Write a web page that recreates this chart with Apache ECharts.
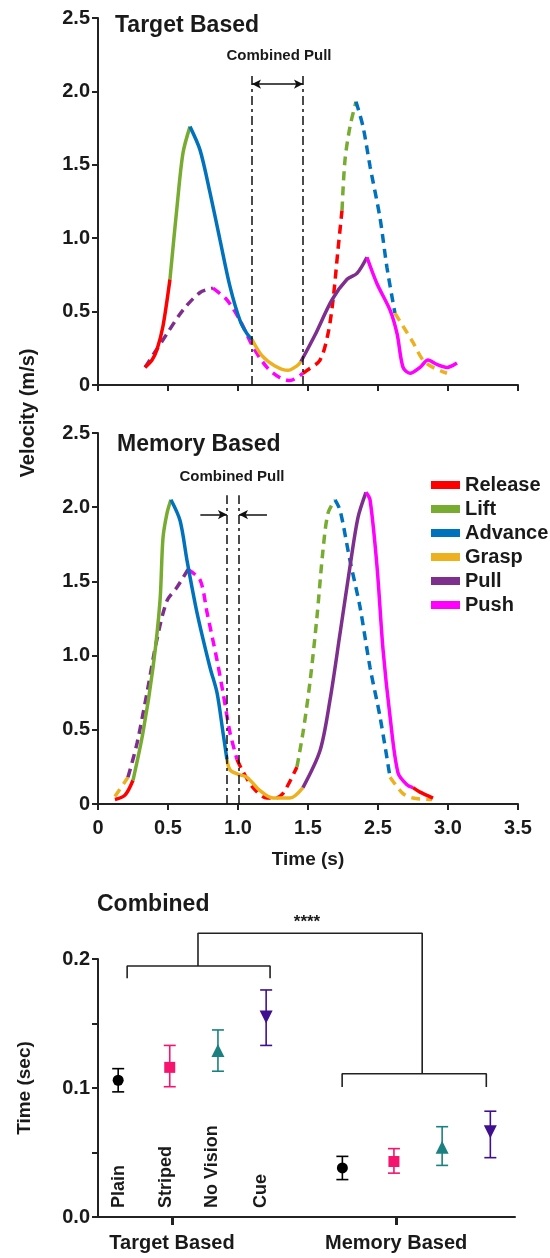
<!DOCTYPE html>
<html>
<head>
<meta charset="utf-8">
<script src="https://cdn.jsdelivr.net/npm/echarts@6.0.0/dist/echarts.min.js"></script>
<style>
html, body { margin: 0; padding: 0; background: #fff; }
#main { width: 550px; height: 1258px; }
</style>
</head>
<body>
<div id="main"></div>
<script>
var FONT = '"Liberation Sans", Arial, sans-serif';
var INK = '#1a1a1a';

var phases = ['Release', 'Lift', 'Advance', 'Grasp', 'Pull', 'Push'];
var phaseColors = {
    Release: '#FF0000', Lift: '#77AC30', Advance: '#0072BD',
    Grasp: '#EDB120', Pull: '#7E2F8E', Push: '#FF00FF'
};
var timeTickLabels = ['0', '0.5', '1.0', '1.5', '2.5', '3.0', '3.5'];

// target based, solid trace
var targetSolid = [
    ['Release', [[0.336, 0.12], [0.386, 0.17], [0.421, 0.24], [0.464, 0.40], [0.514, 0.72]]],
    ['Lift', [[0.514, 0.72], [0.564, 1.21], [0.607, 1.58], [0.657, 1.76]]],
    ['Advance', [[0.657, 1.76], [0.729, 1.60], [0.8, 1.31], [0.871, 0.99], [0.943, 0.67], [1.014, 0.44], [1.064, 0.35], [1.1, 0.31]]],
    ['Grasp', [[1.1, 0.31], [1.171, 0.20], [1.264, 0.13], [1.357, 0.10], [1.421, 0.13], [1.45, 0.16]]],
    ['Pull', [[1.45, 0.16], [1.55, 0.34], [1.671, 0.58], [1.779, 0.72], [1.85, 0.76], [1.921, 0.87]]],
    ['Push', [[1.921, 0.87], [1.993, 0.69], [2.086, 0.51], [2.136, 0.35], [2.179, 0.12], [2.229, 0.08], [2.3, 0.12], [2.357, 0.17], [2.421, 0.14], [2.493, 0.12], [2.564, 0.15]]]
];
// target based, dashed trace
var targetDashed = [
    ['Pull', [[0.336, 0.12], [0.493, 0.35], [0.607, 0.51], [0.729, 0.63], [0.821, 0.66]]],
    ['Push', [[0.821, 0.66], [0.921, 0.58], [1.014, 0.44], [1.107, 0.26], [1.207, 0.12], [1.3, 0.05], [1.371, 0.03], [1.464, 0.08]]],
    ['Release', [[1.464, 0.08], [1.493, 0.10], [1.586, 0.17], [1.643, 0.35], [1.679, 0.58], [1.714, 0.92], [1.743, 1.19]]],
    ['Lift', [[1.743, 1.19], [1.764, 1.53], [1.8, 1.76], [1.843, 1.93]]],
    ['Advance', [[1.843, 1.93], [1.893, 1.76], [1.943, 1.49], [2.014, 1.14], [2.064, 0.80], [2.121, 0.49]]],
    ['Grasp', [[2.121, 0.49], [2.179, 0.40], [2.25, 0.29], [2.321, 0.17], [2.393, 0.12], [2.493, 0.08]]]
];
// memory based, solid trace
var memorySolid = [
    ['Release', [[0.121, 0.03], [0.193, 0.06], [0.25, 0.16]]],
    ['Lift', [[0.25, 0.16], [0.321, 0.48], [0.393, 0.92], [0.443, 1.37], [0.464, 1.79], [0.493, 1.96], [0.521, 2.05]]],
    ['Advance', [[0.521, 2.05], [0.586, 1.91], [0.636, 1.64], [0.707, 1.29], [0.8, 0.92], [0.85, 0.75], [0.893, 0.48], [0.921, 0.30]]],
    ['Grasp', [[0.921, 0.30], [0.943, 0.23], [1.0, 0.20], [1.064, 0.18], [1.157, 0.09], [1.25, 0.04], [1.371, 0.04], [1.464, 0.11]]],
    ['Pull', [[1.464, 0.11], [1.586, 0.36], [1.657, 0.70], [1.729, 1.15], [1.8, 1.60], [1.857, 1.93], [1.914, 2.10]]],
    ['Push', [[1.914, 2.10], [1.943, 2.05], [1.993, 1.60], [2.036, 1.04], [2.086, 0.59], [2.143, 0.21], [2.207, 0.13], [2.25, 0.11]]],
    ['Release', [[2.25, 0.11], [2.3, 0.08], [2.393, 0.04]]]
];
// memory based, dashed trace
var memoryDashed = [
    ['Grasp', [[0.121, 0.05], [0.214, 0.18]]],
    ['Pull', [[0.214, 0.18], [0.279, 0.41], [0.35, 0.75], [0.421, 1.11], [0.493, 1.37], [0.564, 1.46], [0.643, 1.58]]],
    ['Push', [[0.643, 1.58], [0.729, 1.51], [0.779, 1.29], [0.85, 0.97], [0.893, 0.75], [0.943, 0.48], [0.993, 0.30]]],
    ['Release', [[0.993, 0.30], [1.029, 0.23], [1.107, 0.11], [1.207, 0.04], [1.264, 0.04], [1.321, 0.07], [1.421, 0.25]]],
    ['Lift', [[1.421, 0.25], [1.464, 0.48], [1.514, 0.82], [1.564, 1.26], [1.607, 1.71], [1.643, 1.96], [1.693, 2.05]]],
    ['Advance', [[1.693, 2.05], [1.729, 1.98], [1.8, 1.64], [1.871, 1.33], [1.943, 0.92], [2.014, 0.59], [2.086, 0.18]]],
    ['Grasp', [[2.086, 0.18], [2.179, 0.07], [2.25, 0.04], [2.386, 0.03]]]
];

// combined pull window (s)
var targetPullWindow = [1.1, 1.464];
var memoryPullWindow = [0.921, 1.007];

// bottom panel
var groups = ['Target Based', 'Memory Based'];
var conditions = ['Plain', 'Striped', 'No Vision', 'Cue'];
var targetMean = [0.106, 0.116, 0.129, 0.155];
var targetLow = [0.097, 0.101, 0.113, 0.133];
var targetHigh = [0.115, 0.133, 0.145, 0.176];
var memoryMean = [0.038, 0.043, 0.054, 0.066];
var memoryLow = [0.029, 0.034, 0.040, 0.046];
var memoryHigh = [0.047, 0.053, 0.070, 0.082];

var condColors = ['#000000', '#F5146E', '#1A8080', '#3F0F8F'];
var condSymbols = ['circle', 'rect', 'triangle', 'triangle'];
var condRotate = [0, 0, 0, 180];
var condOffset = [-0.24, -0.01, 0.205, 0.42];

var chart = echarts.init(document.getElementById('main'), null, { renderer: 'canvas' });

function traceSeries(trace, idx, dashed) {
    return trace.map(function (seg) {
        return {
            name: seg[0],
            type: 'line',
            xAxisIndex: idx,
            yAxisIndex: idx,
            data: seg[1],
            smooth: 0.3,
            symbol: 'none',
            silent: true,
            z: dashed ? 3 : 4,
            itemStyle: { color: phaseColors[seg[0]] },
            lineStyle: {
                color: phaseColors[seg[0]],
                width: 3.5,
                type: dashed ? [9, 6] : 'solid',
                cap: 'butt'
            }
        };
    });
}

function guideSeries(idx, win, top, arrowY, inward) {
    var vStyle = { color: '#111', width: 1.5, type: [9, 4, 3, 4] };
    var aStyle = { color: '#111', width: 1.5, type: 'solid' };
    var lines = [
        [{ coord: [win[0], 0], lineStyle: vStyle }, { coord: [win[0], top] }],
        [{ coord: [win[1], 0], lineStyle: vStyle }, { coord: [win[1], top] }]
    ];
    if (inward) {
        lines.push([{ coord: [win[0] - 0.19, arrowY], symbol: 'none', lineStyle: aStyle }, { coord: [win[0], arrowY], symbol: 'arrow' }]);
        lines.push([{ coord: [win[1] + 0.2, arrowY], symbol: 'none', lineStyle: aStyle }, { coord: [win[1], arrowY], symbol: 'arrow' }]);
    } else {
        lines.push([{ coord: [win[0], arrowY], symbol: 'arrow', lineStyle: aStyle }, { coord: [win[1], arrowY], symbol: 'arrow' }]);
    }
    return {
        name: 'guide' + idx,
        type: 'line',
        xAxisIndex: idx,
        yAxisIndex: idx,
        data: [],
        symbol: 'none',
        markLine: {
            silent: true,
            animation: false,
            symbol: ['none', 'none'],
            symbolSize: [7, 9],
            label: { show: false },
            data: lines
        }
    };
}

function timeAxis(idx, showLabels) {
    return {
        type: 'value', gridIndex: idx, min: 0, max: 3, interval: 0.5,
        axisLine: { show: true, onZero: false, lineStyle: { color: '#222', width: 2 } },
        axisTick: { show: true, length: 6, lineStyle: { color: '#222', width: 2 } },
        splitLine: { show: false },
        axisLabel: {
            show: showLabels, margin: 14, color: INK, fontSize: 20, fontWeight: 'bold', fontFamily: FONT,
            formatter: function (v) { return timeTickLabels[Math.round(v / 0.5)]; }
        },
        name: showLabels ? 'Time (s)' : '',
        nameLocation: 'middle',
        nameGap: 46,
        nameTextStyle: { color: INK, fontSize: 19, fontWeight: 'bold', fontFamily: FONT }
    };
}

function velocityAxis(idx) {
    return {
        type: 'value', gridIndex: idx, min: 0, max: 2.5, interval: 0.5,
        axisLine: { show: true, onZero: false, lineStyle: { color: '#222', width: 2 } },
        axisTick: { show: true, length: 6, lineStyle: { color: '#222', width: 2 } },
        splitLine: { show: false },
        axisLabel: {
            margin: 8, color: INK, fontSize: 20, fontWeight: 'bold', fontFamily: FONT,
            formatter: function (v) { return v === 0 ? '0' : v.toFixed(1); }
        }
    };
}

function errorBarSeries(ci, pts) {
    var color = condColors[ci];
    return {
        name: conditions[ci] + ' err',
        type: 'custom',
        xAxisIndex: 2,
        yAxisIndex: 2,
        silent: true,
        data: pts,
        encode: { x: 0, y: [1, 2] },
        renderItem: function (params, api) {
            var x = api.value(0);
            var lo = api.coord([x, api.value(1)]);
            var hi = api.coord([x, api.value(2)]);
            var w = 6;
            var st = { stroke: color, lineWidth: 1.6 };
            return {
                type: 'group',
                children: [
                    { type: 'line', shape: { x1: lo[0], y1: lo[1], x2: hi[0], y2: hi[1] }, style: st },
                    { type: 'line', shape: { x1: lo[0] - w, y1: lo[1], x2: lo[0] + w, y2: lo[1] }, style: st },
                    { type: 'line', shape: { x1: hi[0] - w, y1: hi[1], x2: hi[0] + w, y2: hi[1] }, style: st }
                ]
            };
        }
    };
}

var series = []
    .concat(traceSeries(targetSolid, 0, false))
    .concat(traceSeries(targetDashed, 0, true))
    .concat(traceSeries(memorySolid, 1, false))
    .concat(traceSeries(memoryDashed, 1, true));
series.push(guideSeries(0, targetPullWindow, 2.11, 2.05, false));
series.push(guideSeries(1, memoryPullWindow, 2.08, 1.95, true));

conditions.forEach(function (c, i) {
    var xt = 0 + condOffset[i];
    var xm = 1 + condOffset[i];
    series.push(errorBarSeries(i, [[xt, targetLow[i], targetHigh[i]], [xm, memoryLow[i], memoryHigh[i]]]));
    series.push({
        name: c,
        type: 'scatter',
        xAxisIndex: 2,
        yAxisIndex: 2,
        silent: true,
        symbol: condSymbols[i],
        symbolRotate: condRotate[i],
        symbolSize: i >= 2 ? 13 : 11,
        itemStyle: { color: condColors[i], opacity: 1 },
        z: 5,
        data: [[xt, targetMean[i]], [xm, memoryMean[i]]]
    });
});

// significance brackets
var bracketTarget = [[-0.2, 0.185], [-0.2, 0.1946], [0.4375, 0.1946], [0.4375, 0.185]];
var bracketMemory = [[0.759, 0.1008], [0.759, 0.111], [1.402, 0.111], [1.402, 0.1008]];
var bracketTop = [[0.116, 0.1946], [0.116, 0.22], [1.116, 0.22], [1.116, 0.1115]];
[bracketTarget, bracketMemory, bracketTop].forEach(function (b) {
    series.push({
        type: 'line', xAxisIndex: 2, yAxisIndex: 2, data: b, symbol: 'none', silent: true, clip: false,
        lineStyle: { color: '#222', width: 1.6 }
    });
});

function txt(x, y, text, size, align, extra) {
    var el = {
        type: 'text', x: x, y: y, silent: true,
        style: {
            text: text, fill: INK, font: 'bold ' + size + 'px ' + FONT,
            textAlign: align || 'left', textVerticalAlign: 'middle', verticalAlign: 'middle'
        }
    };
    if (extra) { for (var k in extra) el[k] = extra[k]; }
    return el;
}

var labelX = [119, 166, 212, 261];
var graphics = [
    txt(115, 26, 'Target Based', 23),
    txt(117, 445, 'Memory Based', 23),
    txt(279, 56, 'Combined Pull', 15, 'center'),
    txt(232, 477, 'Combined Pull', 15, 'center'),
    txt(97, 905, 'Combined', 23),
    txt(307, 922, '****', 17, 'center'),
    txt(28, 413, 'Velocity (m/s)', 20, 'center', { rotation: Math.PI / 2 })
];
conditions.forEach(function (c, i) {
    graphics.push(txt(labelX[i], 1208, c, 18, 'left', { rotation: Math.PI / 2 }));
});

var option = {
    animation: false,
    backgroundColor: '#fff',
    textStyle: { fontFamily: FONT },
    grid: [
        { left: 98, top: 18, width: 420, height: 367 },
        { left: 98, top: 433, width: 420, height: 371 },
        { left: 98, top: 959, width: 417, height: 258 }
    ],
    legend: {
        left: 426, top: 470, orient: 'vertical',
        itemWidth: 29, itemHeight: 8, itemGap: 4, icon: 'rect',
        selectedMode: false,
        textStyle: { fontSize: 20, fontWeight: 'bold', color: INK, fontFamily: FONT },
        data: phases.map(function (p) { return { name: p, itemStyle: { color: phaseColors[p] } }; })
    },
    xAxis: [
        timeAxis(0, false),
        timeAxis(1, true),
        {
            type: 'value', gridIndex: 2, min: -0.33, max: 1.53,
            axisLine: { show: true, onZero: false, lineStyle: { color: '#222', width: 2 } },
            axisTick: { show: true, length: 8, customValues: [0, 1], lineStyle: { color: '#222', width: 3 } },
            splitLine: { show: false },
            axisLabel: {
                customValues: [0, 1], margin: 16, color: INK, fontSize: 20, fontWeight: 'bold', fontFamily: FONT,
                formatter: function (v) { return groups[Math.round(v)]; }
            }
        }
    ],
    yAxis: [
        velocityAxis(0),
        velocityAxis(1),
        {
            type: 'value', gridIndex: 2, min: 0, max: 0.2, interval: 0.05,
            axisLine: { show: true, onZero: false, lineStyle: { color: '#222', width: 2 } },
            axisTick: { show: true, length: 6, lineStyle: { color: '#222', width: 2 } },
            splitLine: { show: false },
            axisLabel: {
                margin: 8, color: INK, fontSize: 20, fontWeight: 'bold', fontFamily: FONT,
                formatter: function (v) {
                    return Math.abs(v * 10 - Math.round(v * 10)) < 1e-6 ? v.toFixed(1) : '';
                }
            },
            name: 'Time (sec)',
            nameLocation: 'middle',
            nameGap: 64,
            nameTextStyle: { color: INK, fontSize: 19, fontWeight: 'bold', fontFamily: FONT }
        }
    ],
    graphic: graphics,
    series: series
};

chart.setOption(option);

window.onresize = function () {
    chart.resize();
};
</script>
</body>
</html>
